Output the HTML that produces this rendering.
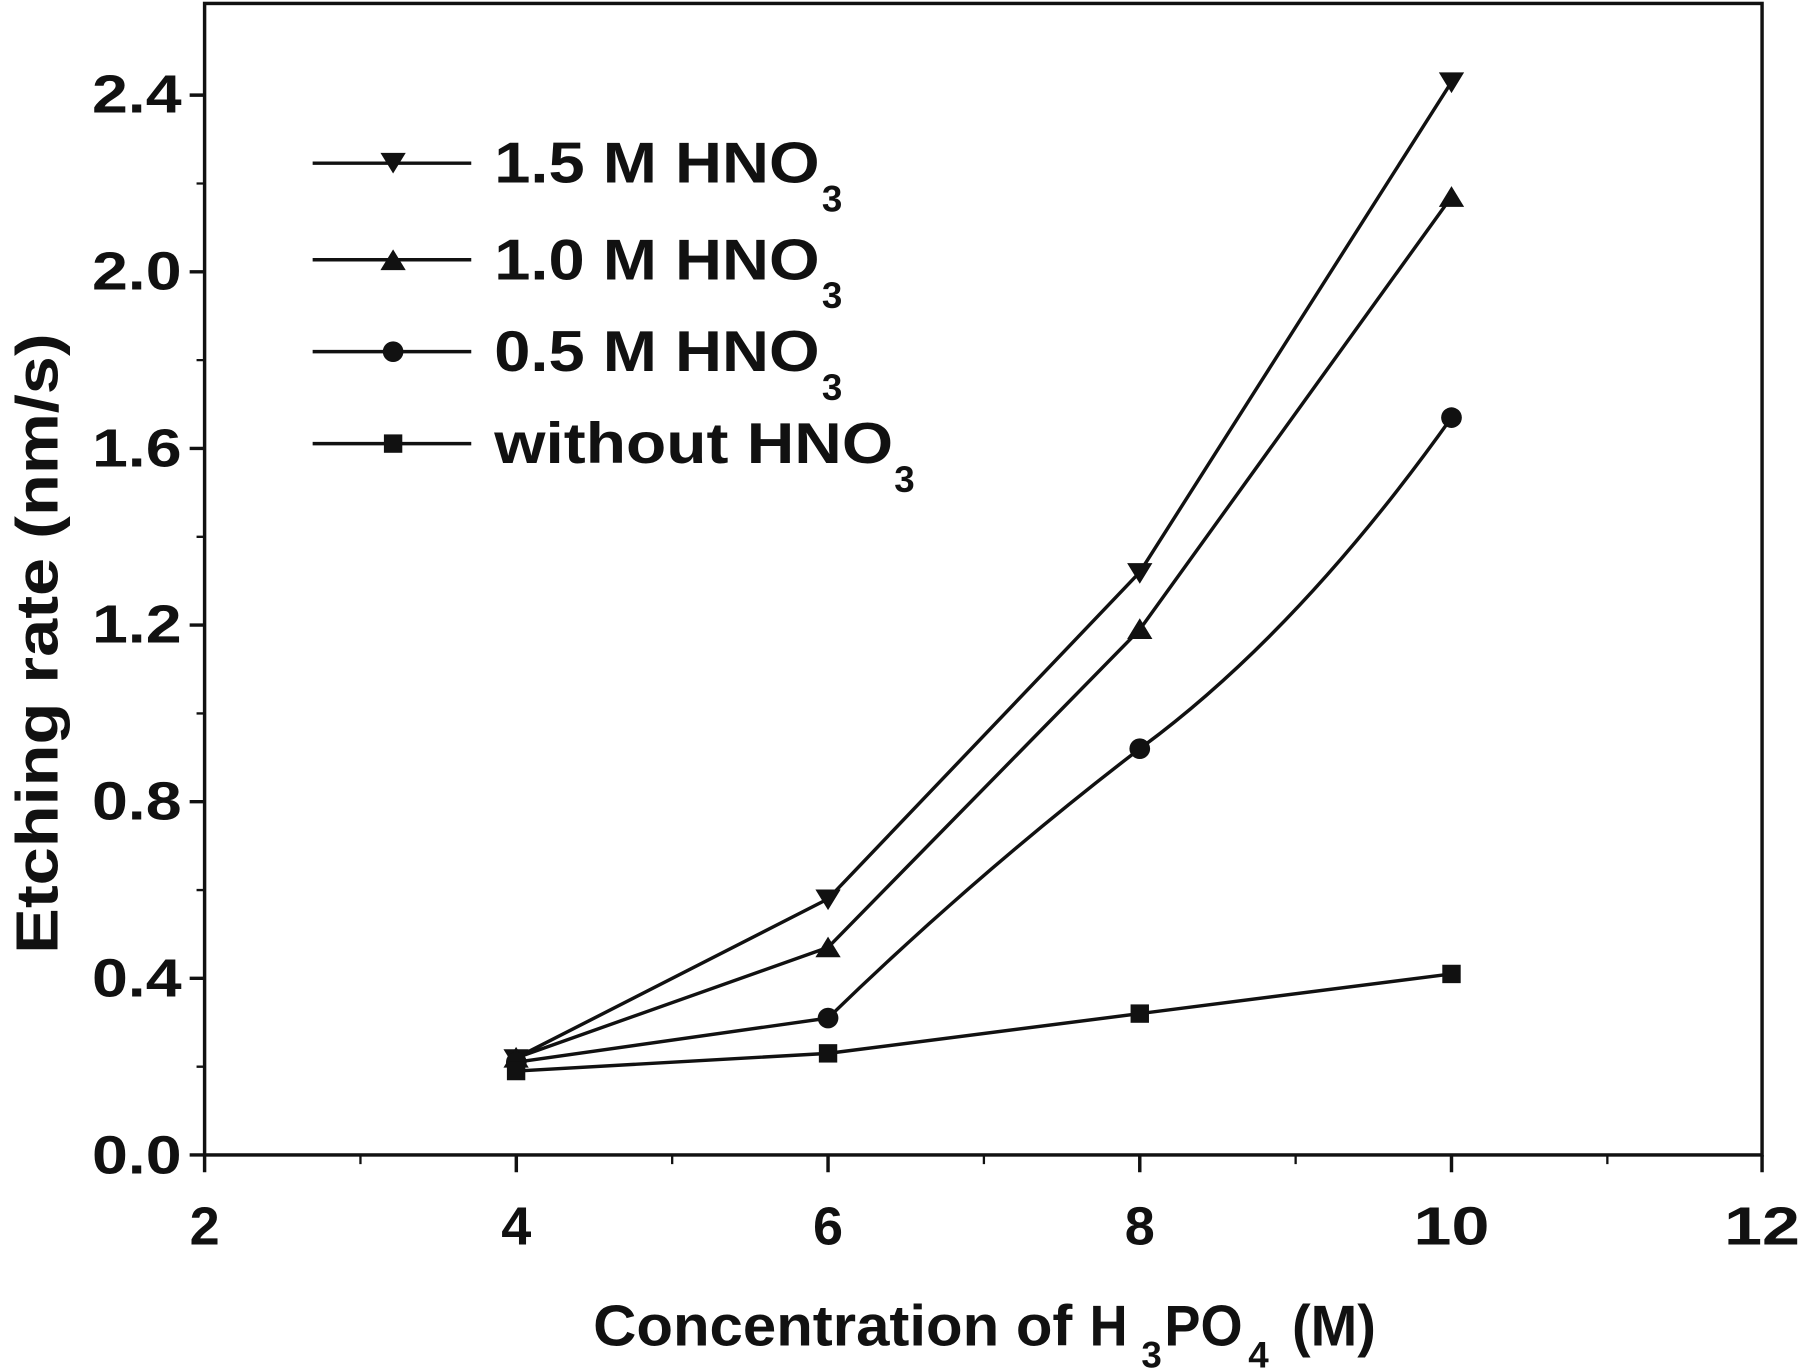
<!DOCTYPE html>
<html><head><meta charset="utf-8"><style>html,body{margin:0;padding:0;background:#fff}svg{display:block}</style></head>
<body>
<svg width="1800" height="1371" viewBox="0 0 1566 1193" preserveAspectRatio="none" xmlns="http://www.w3.org/2000/svg" font-family="Liberation Sans, Arial, sans-serif" font-weight="bold" fill="#111">
<g stroke="#111" stroke-width="3" fill="none">
<rect x="178" y="3" width="1355" height="1002"/>
<path d="M165 1005H178M165 851.3H178M165 697.6H178M165 543.9H178M165 390.2H178M165 236.5H178M165 82.8H178"/>
<path d="M171 928.2H178M171 774.5H178M171 620.8H178M171 467.1H178M171 313.4H178M171 159.7H178" stroke-width="2"/>
<path d="M178 1005V1020M449.2 1005V1020M720.4 1005V1020M991.6 1005V1020M1262.8 1005V1020M1533 1005V1020"/>
<path d="M313.6 1005V1013M584.8 1005V1013M856 1005V1013M1127.2 1005V1013M1398.4 1005V1013" stroke-width="2"/>
<polyline points="449.2,920.5 720.4,782.2 991.6,497.9 1262.8,71.4"/>
<polyline points="449.2,920.5 720.4,824.4 991.6,547.8 1262.8,171.3"/>
<path d="M449.2,924.3 L720.4,885.9 Q850,760 991.6,651.5 Q1130,550 1262.8,363.4"/>
<polyline points="449.2,932 720.4,916.6 991.6,882 1262.8,847.5"/>
<path d="M272 142H410M272 226H410M272 306H410M272 386H410"/>
</g>
<g fill="#111">
<path d="M438 913l11 18l11-18z M709.4 774l11 18l11-18z M980.6 490l11 18l11-18z M1251.8 63l11 18l11-18z M331 133l11 18l11-18z"/>
<path d="M438 929l11-18l11 18z M709.4 833l11-18l11 18z M980.6 556l11-18l11 18z M1251.8 180l11-18l11 18z M331 235l11-18l11 18z"/>
<circle cx="449.2" cy="924.3" r="9"/><circle cx="720.4" cy="885.9" r="9"/><circle cx="991.6" cy="651.5" r="9"/><circle cx="1262.8" cy="363.4" r="9"/><circle cx="342" cy="306" r="9"/>
<rect x="441" y="924" width="16" height="16"/><rect x="712.4" y="908.6" width="16" height="16"/><rect x="983.6" y="874" width="16" height="16"/><rect x="1254.8" y="839.5" width="16" height="16"/><rect x="334" y="378" width="16" height="16"/>
</g>
<g font-size="47" text-anchor="end">
<text x="158" y="1021" textLength="78" lengthAdjust="spacingAndGlyphs">0.0</text><text x="158" y="867" textLength="78" lengthAdjust="spacingAndGlyphs">0.4</text><text x="158" y="713" textLength="78" lengthAdjust="spacingAndGlyphs">0.8</text><text x="158" y="559" textLength="78" lengthAdjust="spacingAndGlyphs">1.2</text><text x="158" y="406" textLength="78" lengthAdjust="spacingAndGlyphs">1.6</text><text x="158" y="252" textLength="78" lengthAdjust="spacingAndGlyphs">2.0</text><text x="158" y="98" textLength="78" lengthAdjust="spacingAndGlyphs">2.4</text>
</g>
<g font-size="47" text-anchor="middle">
<text x="178" y="1083">2</text><text x="449.2" y="1083">4</text><text x="720.4" y="1083">6</text><text x="991.6" y="1083">8</text><text x="1262.8" y="1083" textLength="66" lengthAdjust="spacingAndGlyphs">10</text><text x="1533" y="1083" textLength="66" lengthAdjust="spacingAndGlyphs">12</text>
</g>
<g font-size="50">
<text x="430" y="159" textLength="283" lengthAdjust="spacingAndGlyphs">1.5 M HNO</text><text x="715" y="184" font-size="32">3</text>
<text x="430" y="243" textLength="283" lengthAdjust="spacingAndGlyphs">1.0 M HNO</text><text x="715" y="268" font-size="32">3</text>
<text x="430" y="323" textLength="283" lengthAdjust="spacingAndGlyphs">0.5 M HNO</text><text x="715" y="348" font-size="32">3</text>
<text x="430" y="403" textLength="347" lengthAdjust="spacingAndGlyphs">without HNO</text><text x="778" y="428" font-size="32">3</text>
</g>
<g font-size="50">
<text x="516" y="1171" textLength="417" lengthAdjust="spacingAndGlyphs">Concentration of</text>
<text x="948" y="1171" textLength="33" lengthAdjust="spacingAndGlyphs">H</text>
<text x="993" y="1190" font-size="32">3</text>
<text x="1013" y="1171" textLength="68" lengthAdjust="spacingAndGlyphs">PO</text>
<text x="1086" y="1190" font-size="32">4</text>
<text x="1124" y="1171" textLength="73" lengthAdjust="spacingAndGlyphs">(M)</text>
</g>
<text transform="translate(50,560) rotate(-90)" text-anchor="middle" font-size="52" textLength="540" lengthAdjust="spacingAndGlyphs">Etching rate (nm/s)</text>
</svg>
</body></html>
